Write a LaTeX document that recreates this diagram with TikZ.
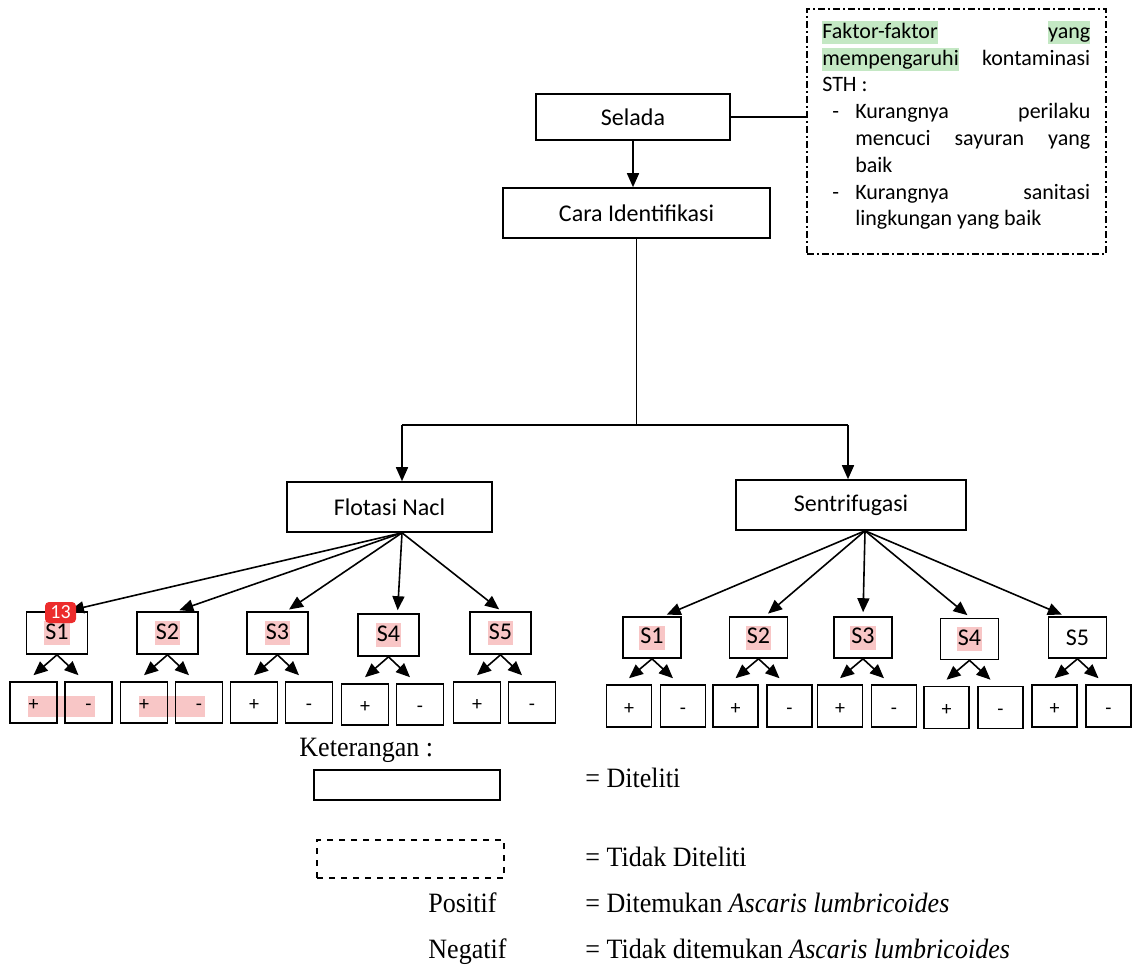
\documentclass[tikz,border=0pt]{standalone}
\usepackage{fontspec}
\setmainfont{Carlito}
\newfontfamily\legendfont[FakeStretch=0.93]{Liberation Serif}
\usetikzlibrary{arrows.meta, positioning, calc}

\definecolor{hlpink}{RGB}{248,198,198}
\definecolor{hlgreen}{RGB}{196,232,196}
\definecolor{badgered}{RGB}{236,44,44}

\newcommand{\hlp}[1]{{\setlength{\fboxsep}{0.5pt}\colorbox{hlpink}{\rule[-2.5pt]{0pt}{11pt}#1}}}
\newcommand{\hlg}[1]{{\setlength{\fboxsep}{0pt}\colorbox{hlgreen}{\rule[-2.8pt]{0pt}{11.5pt}#1}}}

\begin{document}
\begin{tikzpicture}[x=0.5pt, y=-0.5pt,
  box/.style={draw, line width=0.8pt, inner sep=0pt, font=\fontsize{12}{14}\selectfont},
  pm/.style={draw, line width=0.8pt, inner sep=0pt, text height=9pt, text depth=1pt, font=\fontsize{10}{12}\selectfont},
  arr/.style={line width=0.8pt, -{Triangle[length=7pt,width=6pt]}},
  lbl/.style={anchor=base west, inner sep=0pt, font=\legendfont\fontsize{14}{16}\selectfont}]
\useasboundingbox (0,0) rectangle (1145,965);

% alur utama
\node[box, minimum width=97pt, minimum height=23pt] (selada) at (633,117) {Selada};
\node[box, minimum width=133.5pt, minimum height=25pt] (cara) at (636.5,213) {Cara Identifikasi};
\node[draw, line width=0.8pt, dash pattern=on 3.5pt off 1.5pt on 1pt off 1.5pt,
  anchor=north west, inner xsep=7.75pt, inner ysep=6pt] (faktor) at (806,8) {%
\parbox[t][110.5pt][t]{134pt}{\fontsize{11}{13.4}\selectfont
\hlg{Faktor-faktor}\hfill\hlg{yang}\\
\hlg{mempengaruhi}\hfill kontaminasi\\
STH :\\
\makebox[16.5pt][l]{\hspace{5pt}-}Kurangnya\hfill perilaku\\
\hspace*{16.5pt}mencuci\hfill sayuran\hfill yang\\
\hspace*{16.5pt}baik\\
\makebox[16.5pt][l]{\hspace{5pt}-}Kurangnya\hfill sanitasi\\
\hspace*{16.5pt}lingkungan yang baik}};
\draw[line width=0.8pt] (selada.east) -- (selada.east -| faktor.west);
\draw[arr] (selada.south) -- (selada.south |- cara.north);

\node[box, minimum width=102.5pt, minimum height=25pt] (flot) at (389.5,507) {Flotasi Nacl};
\node[box, minimum width=115pt, minimum height=25pt] (sent) at (851,505) {Sentrifugasi};
\coordinate (jl) at (402,425);
\coordinate (jr) at (848,425);
\draw[line width=0.8pt] (cara.south) -- (cara.south |- jl);
\draw[line width=0.8pt] (jl) -- (jr);
\draw[arr] (jl) -- (jl |- flot.north);
\draw[arr] (jr) -- (jr |- sent.north);

% sampel flotasi
\fill[hlpink] (28,696) rectangle (95,717);
\fill[hlpink] (139,696) rectangle (205,717);
\foreach \x/\y/\t [count=\i] in {57/633/10, 167.5/633/9, 277.5/633/9, 388.5/635/9, 500.5/633/1} {
  \node[box, minimum width=30.5pt, minimum height=21pt] (fs\i) at (\x,\y) {\hlp{S\i}};
  \node[pm, minimum width=23.5pt, minimum height=20.5pt] (fp\i) at ({\x-23.5},{\y+69.5}) {+};
  \node[pm, minimum width=23.5pt, minimum height=20.5pt] (fm\i) at ({\x+31.5},{\y+69.5}) {-};
  \draw[arr, shorten >=1.5pt] ([xshift=6.25pt]flot.south) -- ([xshift=\t*0.5pt]fs\i.north);
  \draw[arr] (fs\i.south) -- ([yshift=3pt]fp\i.north);
  \draw[arr] (fs\i.south) -- ([xshift=-5pt,yshift=3pt]fm\i.north);
}

% sampel sentrifugasi
\foreach \x/\y/\t/\h [count=\i] in {652/637.5/11/1, 758.5/637.5/6.5/1, 863/637.5/0/1, 969.5/639/1/1, 1077.5/637.5/-12/0} {
  \node[box, minimum width=29pt, minimum height=20.5pt] (ss\i) at (\x,\y) {\ifnum\h=1 \hlp{S\i}\else S\i\fi};
  \node[pm, minimum width=22.5pt, minimum height=21pt] (sp\i) at ({\x-23},{\y+68.5}) {+};
  \node[pm, minimum width=22.5pt, minimum height=21pt] (sm\i) at ({\x+31},{\y+68.5}) {-};
  \draw[arr, shorten >=2pt] ([xshift=7pt]sent.south) -- ([xshift=\t*0.5pt]ss\i.north);
  \draw[arr] (ss\i.south) -- ([yshift=3pt]sp\i.north);
  \draw[arr] (ss\i.south) -- ([xshift=-5pt,yshift=3pt]sm\i.north);
}

\node[fill=badgered, rounded corners=2pt, text=white, inner sep=0pt, minimum width=15.5pt,
  minimum height=10.5pt, font=\fontsize{10}{12}\selectfont] (badge) at (60.5,612.5) {13};

% keterangan
\node[lbl] (ket) at (299,756) {Keterangan :};
\node[draw, line width=0.7pt, minimum width=93pt, minimum height=15pt] (diteliti) at (407,785) {};
\node[lbl] (ditelitiT) at (585,787) {= Diteliti};
\node[draw, line width=0.7pt, dashed, minimum width=93.5pt, minimum height=19pt] (tidak) at (410.5,859) {};
\node[lbl] (tidakT) at (585,866) {= Tidak Diteliti};
\node[lbl] (pos) at (428,912) {Positif};
\node[lbl] (posT) at (585,912) {= Ditemukan \textit{Ascaris lumbricoides}};
\node[lbl] (neg) at (428,958) {Negatif};
\node[lbl] (negT) at (585,958) {= Tidak ditemukan \textit{Ascaris lumbricoides}};
\end{tikzpicture}
\end{document}
